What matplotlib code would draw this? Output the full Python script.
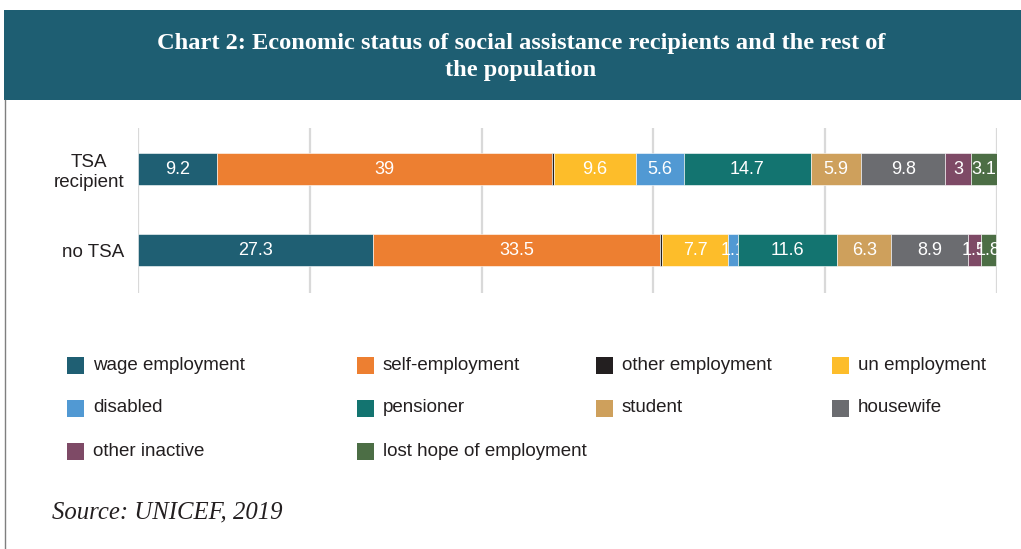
import numpy as np
import matplotlib.pyplot as plt
from matplotlib.patches import Rectangle
from matplotlib.lines import Line2D

plt.rcParams['font.family'] = ['Liberation Sans', 'DejaVu Sans']

groups = ['TSA\nrecipient', 'no TSA']
statuses = ['wage employment', 'self-employment', 'other employment', 'un employment',
            'disabled', 'pensioner', 'student', 'housewife', 'other inactive',
            'lost hope of employment']
tsa = [9.2, 39, 0.2, 9.6, 5.6, 14.7, 5.9, 9.8, 3, 3.1]
no_tsa = [27.3, 33.5, 0.2, 7.7, 1.1, 11.6, 6.3, 8.9, 1.5, 1.8]
colors = ['#1F5F73', '#ED7F31', '#231F20', '#FDBD2A', '#5199D3',
          '#137470', '#CEA05C', '#6B6C70', '#7E4A66', '#4C6E45']

W, H = 1021, 549
fig = plt.figure(figsize=(W / 100, H / 100), dpi=100)

# title banner and left border
fig.add_artist(Rectangle((4 / W, 1 - 100 / H), 1017 / W, 90 / H, transform=fig.transFigure,
                         facecolor='#1E5E72', edgecolor='none', zorder=0))
fig.add_artist(Line2D([4.5 / W, 4.5 / W], [0, 1 - 100 / H], transform=fig.transFigure,
                      color='#7F7F7F', lw=1))
fig.text(521 / W, 1 - 57 / H,
         'Chart 2: Economic status of social assistance recipients and the rest of\nthe population',
         ha='center', va='center', multialignment='center', color='white',
         fontsize=17.6, fontweight='bold', family='Liberation Serif', linespacing=1.4)

ax = fig.add_axes([138 / W, 1 - 293 / H, (997 - 138) / W, 165 / H])
ypos = np.array([1, 0])
left = np.zeros(2)
for i, name in enumerate(statuses):
    vals = np.array([tsa[i], no_tsa[i]])
    bars = ax.barh(ypos, vals, left=left, height=0.395, color=colors[i],
                   edgecolor='white', linewidth=0.4, zorder=3)
    labels = ['%g' % v if v >= 1 else '' for v in vals]
    ax.bar_label(bars, labels=labels, label_type='center', color='white', fontsize=13)
    left += vals

ax.set_xlim(0, 100)
ax.set_ylim(-0.53, 1.506)
ax.set_xticks(range(0, 101, 20))
ax.xaxis.grid(True, color='#D9D9D9', lw=1.6, zorder=0)
ax.set_yticks(ypos)
ax.set_yticklabels(groups, fontsize=13.5, color='#231F20')
for t in ax.get_yticklabels():
    t.set_multialignment('center')
ax.tick_params(axis='x', labelbottom=False, length=0)
ax.tick_params(axis='y', length=0, pad=10)
for s in ax.spines.values():
    s.set_visible(False)

# legend laid out in a 4-column grid
col_x = [67, 357, 596, 832]
row_y = [365, 408, 451]
for i, name in enumerate(statuses):
    cx = col_x[i % 4]
    cy = row_y[i // 4]
    fig.add_artist(Rectangle((cx / W, 1 - (cy + 8.5) / H), 17 / W, 17 / H,
                             transform=fig.transFigure, facecolor=colors[i], edgecolor='none'))
    fig.text((cx + 26) / W, 1 - cy / H, name, ha='left', va='center',
             fontsize=13.5, color='#231F20')

fig.text(52 / W, 1 - 512 / H, 'Source: UNICEF, 2019', ha='left', va='center',
         fontsize=17.8, style='italic', family='Liberation Serif', color='#231F20')

fig.savefig('out.png', dpi=100)
